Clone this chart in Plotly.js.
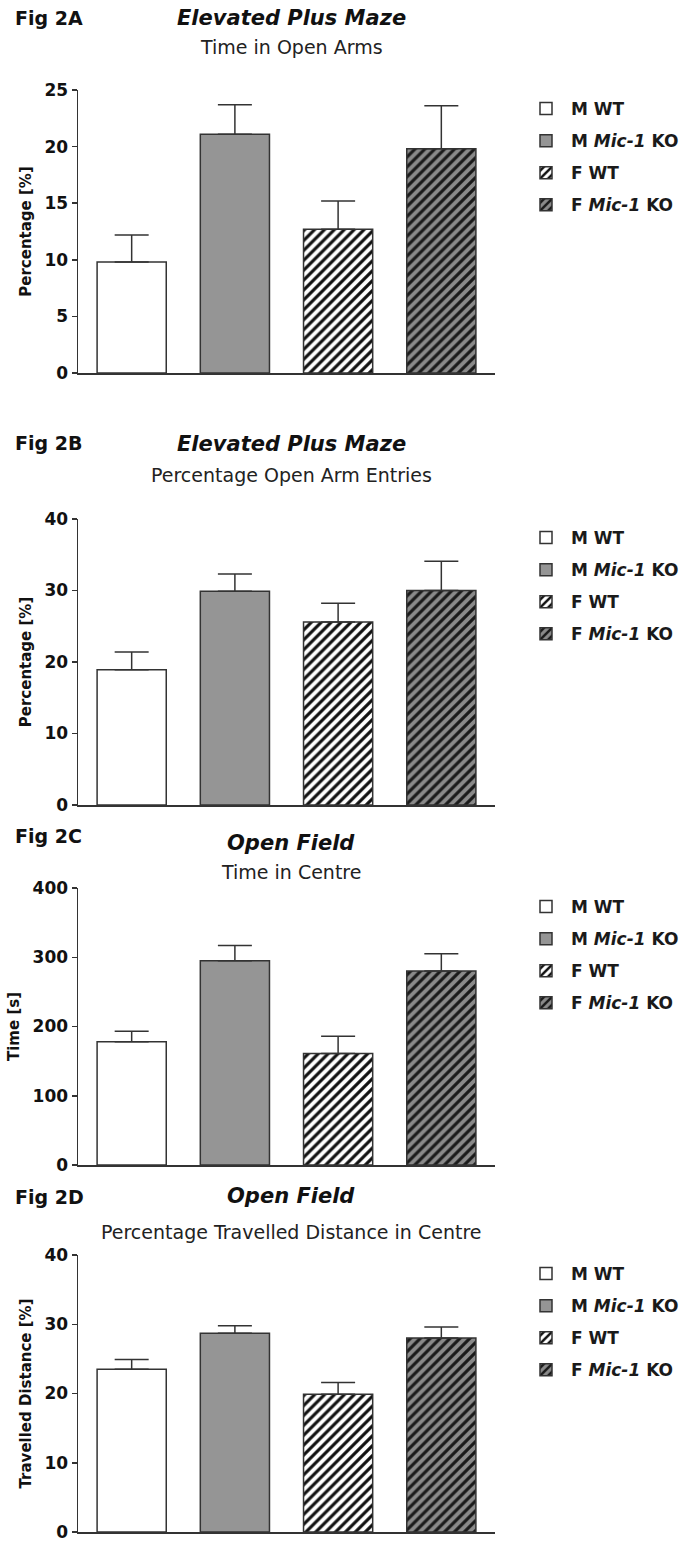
<!DOCTYPE html>
<html><head><meta charset="utf-8">
<script src="https://cdn.plot.ly/plotly-3.0.1.min.js"></script>
<style>html,body{margin:0;padding:0;background:#fff}#chart{width:700px;height:1548px}</style>
</head><body><div id="chart"></div>
<script>
// ---------- data ----------
const groups = ["M WT", "M Mic-1 KO", "F WT", "F Mic-1 KO"];
const legendLabels = ["M WT", "M <i>Mic-1</i> KO", "F WT", "F <i>Mic-1</i> KO"];
const panelLabels = ["Fig 2A", "Fig 2B", "Fig 2C", "Fig 2D"];
const panelTitles = ["Elevated Plus Maze", "Elevated Plus Maze", "Open Field", "Open Field"];
const panelSubtitles = ["Time in Open Arms", "Percentage Open Arm Entries", "Time in Centre", "Percentage Travelled Distance in Centre"];
const yTitles = ["Percentage [%]", "Percentage [%]", "Time [s]", "Travelled Distance [%]"];
const yMax = [25, 40, 400, 40];
const yStep = [5, 10, 100, 10];

const meansA = [9.8, 21.1, 12.7, 19.8];
const semA   = [2.4, 2.6, 2.5, 3.8];
const meansB = [18.9, 29.9, 25.6, 30.0];
const semB   = [2.5, 2.4, 2.6, 4.1];
const meansC = [178, 295, 161, 280];
const semC   = [15, 22, 25, 25];
const meansD = [23.5, 28.7, 19.9, 28.0];
const semD   = [1.4, 1.1, 1.7, 1.6];

const panelMeans = [meansA, meansB, meansC, meansD];
const panelSems = [semA, semB, semC, semD];

// ---------- layout geometry (pixels) ----------
const W = 700, H = 1548;
const plotLeft = 78, plotRight = 495;
const panelTop = [90, 519, 888, 1255];
const panelBottom = [373, 805, 1165, 1532];
const labelY = [18, 443, 836, 1197];
const titleY = [18, 444, 843, 1196];
const subY = [47, 475, 872, 1232];
const titleX = 291;
const legendX = 521;

const edge = "#333333";
const styles = [
  {color: "#ffffff"},
  {color: "#959595"},
  {color: "#ffffff", pattern: {shape: "/", bgcolor: "#ffffff", fgcolor: "#111111", size: 7, solidity: 0.45}},
  {color: "#8a8a8a", pattern: {shape: "/", bgcolor: "#8a8a8a", fgcolor: "#1a1a1a", size: 7, solidity: 0.45}}
];

const px = v => v / W;
const py = v => 1 - v / H;
const FONT = "DejaVu Sans, Verdana, sans-serif";

const traces = [];
const layout = {
  width: W, height: H,
  margin: {l: 0, r: 0, t: 0, b: 0},
  paper_bgcolor: "#ffffff", plot_bgcolor: "#ffffff",
  barmode: "overlay",
  font: {family: FONT, color: "#222"},
  showlegend: true,
  annotations: []
};

for (let p = 0; p < 4; p++) {
  const sfx = p === 0 ? "" : String(p + 1);
  const legendName = "legend" + sfx;
  for (let g = 0; g < groups.length; g++) {
    const s = styles[g];
    const marker = {color: s.color, line: {color: edge, width: 1.5}};
    if (s.pattern) marker.pattern = s.pattern;
    traces.push({
      type: "bar",
      x: [groups[g]],
      y: [panelMeans[p][g]],
      name: legendLabels[g],
      width: 0.67,
      xaxis: "x" + sfx, yaxis: "y" + sfx,
      legend: legendName,
      legendgroup: "p" + p + "g" + g,
      marker: marker,
      error_y: {type: "data", symmetric: false, array: [panelSems[p][g]], arrayminus: [0],
                color: edge, thickness: 1.5, width: 17},
      hoverinfo: "skip"
    });
  }
  layout["xaxis" + sfx] = {
    domain: [px(plotLeft), px(plotRight)],
    anchor: "y" + sfx,
    type: "category",
    categoryorder: "array", categoryarray: groups,
    range: [-0.52, 3.52],
    showticklabels: false, ticks: "",
    showline: true, linecolor: edge, linewidth: 1.5,
    showgrid: false, zeroline: false, fixedrange: true
  };
  layout["yaxis" + sfx] = {
    domain: [py(panelBottom[p]), py(panelTop[p])],
    anchor: "x" + sfx,
    range: [0, yMax[p]],
    dtick: yStep[p], tick0: 0,
    ticks: "outside", ticklen: 5, tickwidth: 1.5, tickcolor: edge,
    showline: true, linecolor: edge, linewidth: 1.5,
    showgrid: false, zeroline: false, fixedrange: true,
    tickfont: {family: FONT, size: 17, color: "#111", weight: "bold"},
    title: {text: yTitles[p], font: {family: FONT, size: 15, color: "#111", weight: "bold"}, standoff: 9}
  };
  layout[legendName] = {
    x: px(legendX), y: py(panelTop[p] + 1), xanchor: "left", yanchor: "top",
    bgcolor: "rgba(0,0,0,0)", borderwidth: 0,
    font: {family: FONT, size: 17, color: "#1a1a1a", weight: "bold"},
    tracegroupgap: 7, itemwidth: 40, traceorder: "grouped"
  };
  layout.annotations.push(
    {xref: "paper", yref: "paper", x: px(13), y: py(labelY[p]), xanchor: "left", yanchor: "middle",
     text: "<b>" + panelLabels[p] + "</b>", showarrow: false, font: {family: FONT, size: 19, color: "#111"}},
    {xref: "paper", yref: "paper", x: px(titleX), y: py(titleY[p]), xanchor: "center", yanchor: "middle",
     text: "<b><i>" + panelTitles[p] + "</i></b>", showarrow: false, font: {family: FONT, size: 21, color: "#111"}},
    {xref: "paper", yref: "paper", x: px(titleX), y: py(subY[p]), xanchor: "center", yanchor: "middle",
     text: panelSubtitles[p], showarrow: false, font: {family: FONT, size: 19, color: "#222"}}
  );
}

Plotly.newPlot("chart", traces, layout, {displayModeBar: false, staticPlot: true});
</script>
</body></html>
